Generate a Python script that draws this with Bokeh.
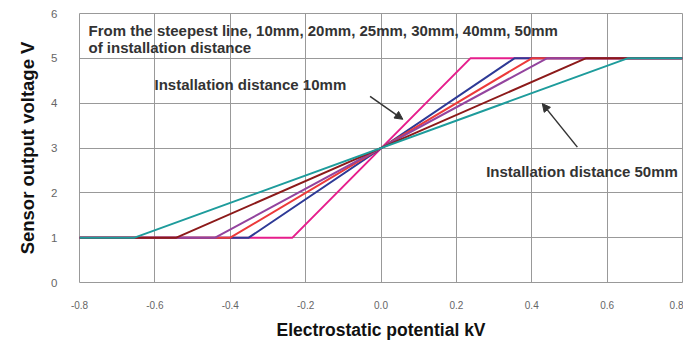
from bokeh.plotting import figure
from bokeh.models import Arrow, NormalHead, Label, FixedTicker
from bokeh.embed import file_html
from bokeh.resources import INLINE

# Breakpoints of each curve (kV, V)
series_names = ["10mm", "20mm", "25mm", "30mm", "40mm", "50mm"]
x_10mm = [-0.8, -0.235, 0.237, 0.8]
x_20mm = [-0.8, -0.351, 0.354, 0.8]
x_25mm = [-0.8, -0.400, 0.400, 0.8]
x_30mm = [-0.8, -0.440, 0.440, 0.8]
x_40mm = [-0.8, -0.543, 0.543, 0.8]
x_50mm = [-0.8, -0.654, 0.654, 0.8]
y_curve = [1, 1, 5, 5]
series_x = [x_10mm, x_20mm, x_25mm, x_30mm, x_40mm, x_50mm]
series_colors = ["#E61E8C", "#2E3A96", "#EC3A3A", "#93449E", "#8C1A1A", "#1E9C9C"]

x_ticks = [-0.8, -0.6, -0.4, -0.2, 0.0, 0.2, 0.4, 0.6, 0.8]
x_tick_labels = ["-0.8", "-0.6", "-0.4", "-0.2", "0.0", "0.2", "0.4", "0.6", "0.8"]
y_ticks = [0, 1, 2, 3, 4, 5, 6]

p = figure(width=683, height=342, x_range=(-0.8, 0.8), y_range=(0, 6),
           output_backend="svg", toolbar_location=None,
           min_border_left=79, min_border_right=1, min_border_top=13, min_border_bottom=57)

p.outline_line_color = "#999999"
p.outline_line_width = 1
p.background_fill_color = "white"
p.border_fill_color = "white"

for ax in (p.xaxis[0], p.yaxis[0]):
    ax.axis_line_color = None
    ax.major_tick_line_color = None
    ax.minor_tick_line_color = None
    ax.major_label_text_color = "#666666"
    ax.major_label_text_font = "Liberation Sans"
    ax.axis_label_text_font = "Liberation Sans"
    ax.axis_label_text_font_style = "bold"
    ax.axis_label_text_color = "#111111"

p.xaxis.ticker = FixedTicker(ticks=x_ticks)
p.xaxis.major_label_overrides = {t: l for t, l in zip(x_ticks, x_tick_labels)}
p.xaxis.major_label_text_font_size = "10px"
p.xaxis.major_label_standoff = 12
p.xaxis.axis_label = "Electrostatic potential kV"
p.xaxis.axis_label_text_font_size = "17.5px"
p.xaxis.axis_label_standoff = 8

p.yaxis.ticker = FixedTicker(ticks=y_ticks)
p.yaxis.major_label_text_font_size = "11.5px"
p.yaxis.major_label_standoff = 16
p.yaxis.axis_label = "Sensor output voltage V"
p.yaxis.axis_label_text_font_size = "18.5px"
p.yaxis.axis_label_standoff = 10

p.xgrid.ticker = FixedTicker(ticks=x_ticks)
p.ygrid.ticker = FixedTicker(ticks=y_ticks)
for g in (p.xgrid[0], p.ygrid[0]):
    g.grid_line_color = "#999999"
    g.grid_line_width = 1
    g.grid_line_alpha = 1

for xs, c, n in zip(series_x, series_colors, series_names):
    p.line(xs, y_curve, line_color=c, line_width=2)

txt = dict(text_font="Liberation Sans", text_font_style="bold", text_color="#333333",
           text_font_size="15px", text_baseline="middle")
p.add_layout(Label(x=-0.776, y=5.63, text="From the steepest line, 10mm, 20mm, 25mm, 30mm, 40mm, 50mm", **txt))
p.add_layout(Label(x=-0.776, y=5.25, text="of installation distance", **txt))
p.add_layout(Label(x=-0.601, y=4.41, text="Installation distance 10mm", **txt))
p.add_layout(Label(x=0.279, y=2.47, text="Installation distance 50mm", **txt))

p.add_layout(Arrow(x_start=-0.029, y_start=4.15, x_end=0.058, y_end=3.64,
                   line_color="#333333", line_width=1.5,
                   end=NormalHead(size=8, fill_color="#333333", line_color="#333333")))
p.add_layout(Arrow(x_start=0.521, y_start=3.02, x_end=0.428, y_end=3.99,
                   line_color="#333333", line_width=1.5,
                   end=NormalHead(size=8, fill_color="#333333", line_color="#333333")))

open("out.html", "w").write(file_html(p, INLINE))
